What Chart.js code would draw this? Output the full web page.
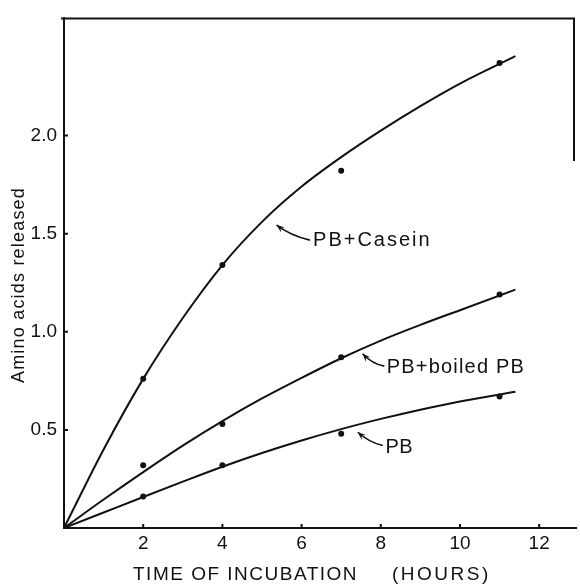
<!DOCTYPE html>
<html>
<head>
<meta charset="utf-8">
<script src="https://cdn.jsdelivr.net/npm/chart.js@4.4.0/dist/chart.umd.min.js"></script>
<style>
  html, body { margin: 0; padding: 0; background: #fff; }
  #wrap { width: 580px; height: 585px; }
</style>
</head>
<body>
<div id="wrap"><canvas id="chart" width="580" height="585"></canvas></div>
<script>
// measured points (hours, amino acids released)
var sampleHours = [2, 4, 7, 11];
var caseinPoints = [0.76, 1.34, 1.82, 2.37];
var boiledPoints = [0.32, 0.53, 0.87, 1.19];
var pbPoints = [0.16, 0.32, 0.48, 0.67];

// hand-drawn fitted curves
var curveHours = [0, 1, 2, 3, 4, 5, 6, 7, 8, 9, 10, 11.4];
var caseinCurve = [0, 0.40, 0.76, 1.07, 1.34, 1.56, 1.74, 1.89, 2.025, 2.15, 2.265, 2.405];
var boiledCurve = [0, 0.145, 0.285, 0.42, 0.545, 0.66, 0.765, 0.865, 0.955, 1.035, 1.11, 1.215];
var pbCurve = [0, 0.079, 0.158, 0.236, 0.312, 0.382, 0.446, 0.504, 0.556, 0.603, 0.645, 0.694];

var xTicks = [2, 4, 6, 8, 10, 12];
var yTicks = [0.5, 1.0, 1.5, 2.0];

var xTitle = 'TIME OF INCUBATION';
var xUnit = '(HOURS)';
var yTitle = 'Amino acids released';
var curveNames = ['PB+Casein', 'PB+boiled PB', 'PB'];

var FONT = "'Liberation Sans', Arial, sans-serif";
var INK = '#111';

// where each curve's label and arrow sit, in data units
var labelPlaces = [
  {at: [6.29, 1.466], from: [6.21, 1.467], ctrl: [5.69, 1.494], to: [5.37, 1.544], spacing: 2},
  {at: [8.15, 0.82], from: [8.09, 0.825], ctrl: [7.79, 0.835], to: [7.54, 0.888], spacing: 1.2},
  {at: [8.12, 0.41], from: [8.05, 0.42], ctrl: [7.72, 0.435], to: [7.42, 0.488], spacing: 0.5}
];

function pairs(xs, ys) {
    return xs.map(function(x, i) { return {x: x, y: ys[i]}; });
}

function curve(ys) {
    return {
        data: pairs(curveHours, ys),
        showLine: true,
        borderColor: INK,
        borderWidth: 2,
        pointRadius: 0,
        cubicInterpolationMode: 'monotone',
        fill: false
    };
}

function dots(ys) {
    return {
        data: pairs(sampleHours, ys),
        showLine: false,
        pointRadius: 3,
        pointBorderWidth: 0,
        pointBackgroundColor: INK
    };
}

var extras = {
    id: 'extras',
    afterDraw: function(chart) {
        var ctx = chart.ctx;
        var a = chart.chartArea;
        var xs = chart.scales.x, ys = chart.scales.y;
        ctx.save();
        ctx.strokeStyle = INK;
        ctx.fillStyle = INK;
        ctx.lineWidth = 2;

        // frame: top and the short right edge
        ctx.beginPath();
        ctx.moveTo(a.left - 3, a.top);
        ctx.lineTo(a.right - 2, a.top);
        ctx.lineTo(a.right - 2, ys.getPixelForValue(1.87));
        ctx.stroke();

        // inward tick marks
        ctx.beginPath();
        xTicks.forEach(function(v) {
            var p = xs.getPixelForValue(v);
            ctx.moveTo(p, a.bottom);
            ctx.lineTo(p, a.bottom - 4);
        });
        yTicks.forEach(function(v) {
            var p = ys.getPixelForValue(v);
            ctx.moveTo(a.left, p);
            ctx.lineTo(a.left + 4, p);
        });
        ctx.stroke();

        // curve labels with arrows
        ctx.lineWidth = 1.6;
        ctx.font = '20px ' + FONT;
        ctx.textBaseline = 'middle';
        ctx.textAlign = 'left';
        labelPlaces.forEach(function(l, i) {
            var px = function(p) { return [xs.getPixelForValue(p[0]), ys.getPixelForValue(p[1])]; };
            var f = px(l.from), c = px(l.ctrl), t = px(l.to), at = px(l.at);
            ctx.letterSpacing = l.spacing + 'px';
            ctx.fillText(curveNames[i], at[0], at[1]);
            ctx.beginPath();
            ctx.moveTo(f[0], f[1]);
            ctx.quadraticCurveTo(c[0], c[1], t[0], t[1]);
            ctx.stroke();
            var ang = Math.atan2(t[1] - c[1], t[0] - c[0]);
            ctx.beginPath();
            ctx.moveTo(t[0], t[1]);
            ctx.lineTo(t[0] - 8 * Math.cos(ang) + 3.2 * Math.sin(ang), t[1] - 8 * Math.sin(ang) - 3.2 * Math.cos(ang));
            ctx.lineTo(t[0] - 5 * Math.cos(ang), t[1] - 5 * Math.sin(ang));
            ctx.lineTo(t[0] - 8 * Math.cos(ang) - 3.2 * Math.sin(ang), t[1] - 8 * Math.sin(ang) + 3.2 * Math.cos(ang));
            ctx.closePath();
            ctx.fill();
        });

        // axis titles
        ctx.font = '19px ' + FONT;
        ctx.letterSpacing = '1.5px';
        ctx.fillText(xTitle, 133, 575);
        ctx.letterSpacing = '2.5px';
        ctx.fillText(xUnit, 392, 575);

        ctx.translate(19, 285);
        ctx.rotate(-Math.PI / 2);
        ctx.font = '18px ' + FONT;
        ctx.letterSpacing = '1.2px';
        ctx.textAlign = 'center';
        ctx.fillText(yTitle, 0, 0);
        ctx.restore();
    }
};

var config = {
    type: 'scatter',
    data: {
        datasets: [
            curve(caseinCurve),
            curve(boiledCurve),
            curve(pbCurve),
            dots(caseinPoints),
            dots(boiledPoints),
            dots(pbPoints)
        ]
    },
    options: {
        responsive: false,
        animation: false,
        layout: { padding: { top: 15, left: 0, right: 0, bottom: 0 } },
        plugins: { legend: { display: false }, tooltip: { enabled: false } },
        scales: {
            x: {
                type: 'linear',
                min: 0,
                max: 12.93,
                afterBuildTicks: function(s) { s.ticks = xTicks.map(function(v) { return {value: v}; }); },
                afterFit: function(s) { s.height = 57; },
                grid: { display: true, drawOnChartArea: false, drawTicks: false },
                border: { display: true, color: INK, width: 2 },
                ticks: { color: INK, font: { family: FONT, size: 19 }, padding: 4, maxRotation: 0, autoSkip: false }
            },
            y: {
                type: 'linear',
                min: 0,
                max: 2.597,
                afterBuildTicks: function(s) { s.ticks = yTicks.map(function(v) { return {value: v}; }); },
                afterFit: function(s) { s.width = 64; },
                grid: { display: true, drawOnChartArea: false, drawTicks: false },
                border: { display: true, color: INK, width: 2 },
                ticks: {
                    color: INK,
                    font: { family: FONT, size: 19 },
                    padding: 7,
                    callback: function(v) { return v.toFixed(1); }
                }
            }
        }
    },
    plugins: [extras]
};

window.onload = function() {
    var ctx = document.getElementById('chart').getContext('2d');
    window.myChart = new Chart(ctx, config);
};
</script>
</body>
</html>
